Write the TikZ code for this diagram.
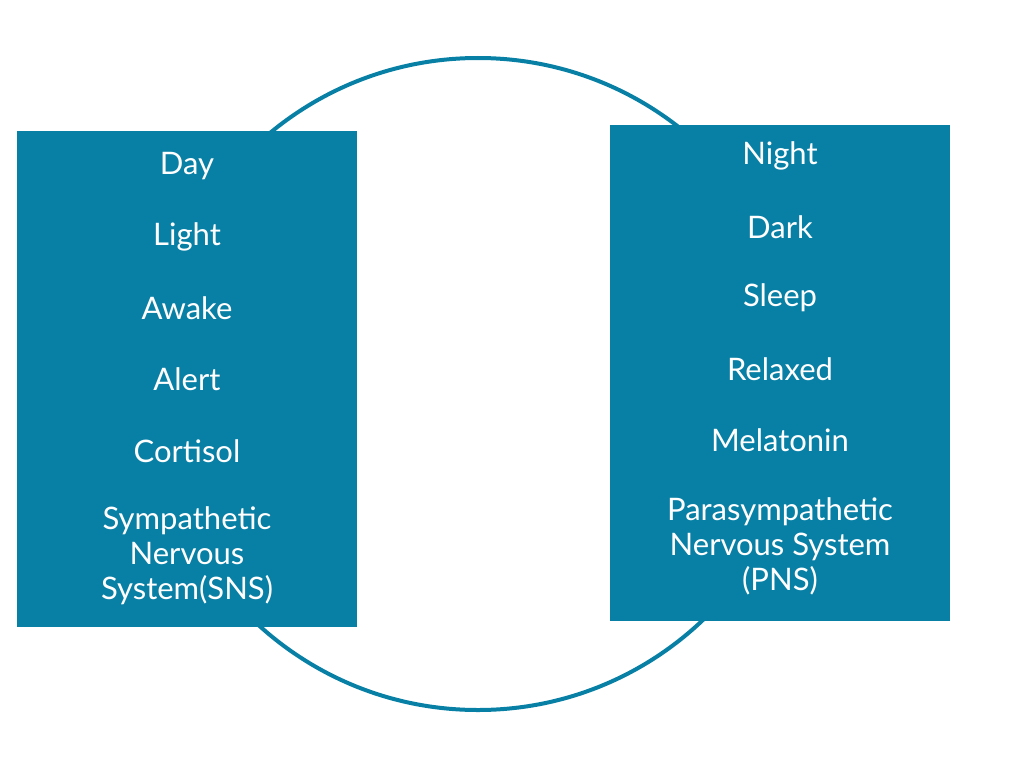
\documentclass[tikz,border=0pt]{standalone}
\usepackage{fontspec}
\setmainfont{Lato}
\definecolor{teal}{HTML}{0880A5}
\begin{document}
\begin{tikzpicture}[x=1pt,y=-1pt,
  box/.style={fill=teal,draw=none},
  lbl/.style={text=white,font=\fontsize{31}{35}\selectfont,align=center,anchor=center}]
\useasboundingbox (0,0) rectangle (1024,768);
\node[draw=teal,line width=4pt,circle,minimum size=652pt,inner sep=0] (c) at (478,384) {};
\fill[box] (17,131) rectangle (357,627);
\fill[box] (610,125) rectangle (950,621);
\foreach \t/\y [count=\i] in {Day/166,Light/237,Awake/308,Alert/379,Cortisol/451}
  \node[lbl] (l\i) at (187,\y) {\t};
\node[lbl] (l6) at (187,556) {Sympathetic\\Nervous\\System(SNS)};
\foreach \t/\y [count=\i] in {Night/156,Dark/227,Sleep/298,Relaxed/369,Melatonin/440}
  \node[lbl] (r\i) at (780,\y) {\t};
\node[lbl] (r6) at (780,546) {Parasympathetic\\Nervous System\\(PNS)};
\end{tikzpicture}
\end{document}
